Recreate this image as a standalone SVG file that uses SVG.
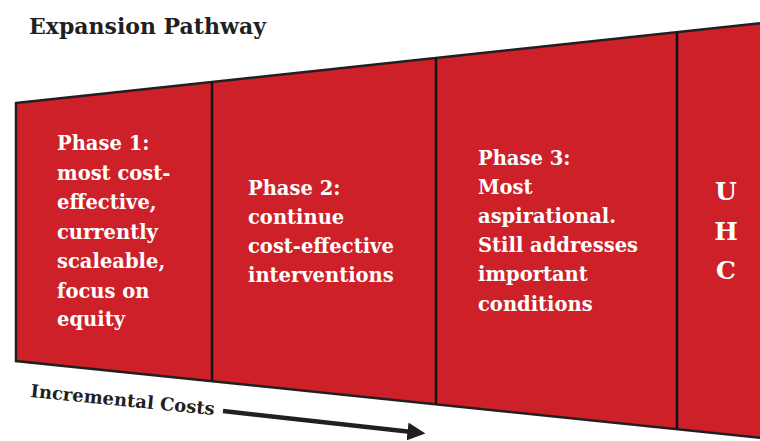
<svg xmlns="http://www.w3.org/2000/svg" width="760" height="441" viewBox="0 0 760 441">
<defs>
<style>
.body{font-family:"DejaVu Serif","Liberation Serif",serif;font-weight:bold;font-size:19.5px;fill:#ffffff}
.uhc{font-family:"DejaVu Serif","Liberation Serif",serif;font-weight:bold;font-size:25px;fill:#ffffff;text-anchor:middle}
.dark{font-family:"DejaVu Serif","Liberation Serif",serif;font-weight:bold;fill:#231f20}
.div{stroke:#111;stroke-width:2.5}
</style>
<marker id="ah" markerWidth="4" markerHeight="4" refX="1" refY="2" orient="auto" markerUnits="strokeWidth">
<path d="M0,0 L4,2 L0,4 Z" fill="#231f20"/>
</marker>
</defs>
<rect width="760" height="441" fill="#ffffff"/>
<text class="dark" x="29" y="34" font-size="22">Expansion Pathway</text>
<g id="pathway">
<polygon points="16,103 762,23 762,438 16,361" fill="#cd2029" stroke="#231f20" stroke-width="2.5" stroke-linejoin="miter"/>
</g>
<g id="dividers">
<line class="div" x1="212" y1="82" x2="212" y2="381"/>
<line class="div" x1="436" y1="58" x2="436" y2="404"/>
<line class="div" x1="677" y1="32" x2="677" y2="429"/>
</g>
<g id="phase1">
<text class="body" x="57" y="150">Phase 1:</text>
<text class="body" x="57" y="180">most cost-</text>
<text class="body" x="57" y="209">effective,</text>
<text class="body" x="57" y="239">currently</text>
<text class="body" x="57" y="268">scaleable,</text>
<text class="body" x="57" y="298">focus on</text>
<text class="body" x="57" y="326">equity</text>
</g>
<g id="phase2">
<text class="body" x="248" y="195">Phase 2:</text>
<text class="body" x="248" y="224">continue</text>
<text class="body" x="248" y="253">cost-effective</text>
<text class="body" x="248" y="282">interventions</text>
</g>
<g id="phase3">
<text class="body" x="478" y="165">Phase 3:</text>
<text class="body" x="478" y="194">Most</text>
<text class="body" x="478" y="223">aspirational.</text>
<text class="body" x="478" y="252">Still addresses</text>
<text class="body" x="478" y="281">important</text>
<text class="body" x="478" y="311">conditions</text>
</g>
<g id="uhc">
<text class="uhc" x="726" y="200">U</text>
<text class="uhc" x="726" y="240">H</text>
<text class="uhc" x="726" y="279">C</text>
</g>
<g id="connectors">
<text class="dark" font-size="18" transform="translate(30,397) rotate(5.6)">Incremental Costs</text>
<line x1="223" y1="411" x2="412" y2="432" stroke="#231f20" stroke-width="4.5" marker-end="url(#ah)"/>
</g>
</svg>
